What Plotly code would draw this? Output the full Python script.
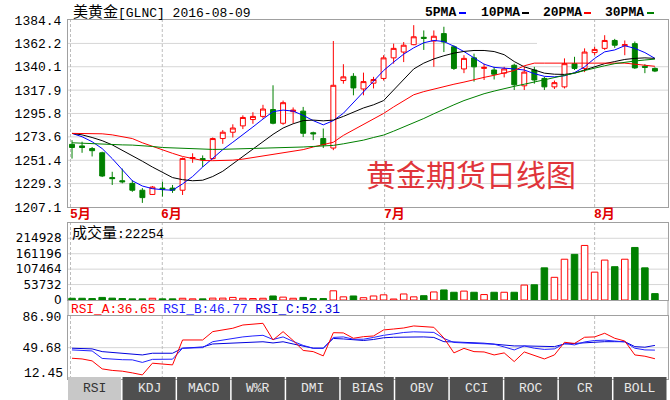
import plotly.graph_objects as go

# ---------------- data ----------------
idx = list(range(59))
open_ = [1266.5, 1265, 1262.5, 1258.5, 1235, 1232, 1229.5, 1223, 1219, 1225,
         1225, 1223, 1253, 1253, 1253, 1272, 1278, 1284, 1290, 1293,
         1299.5, 1286.5, 1297.5, 1298, 1277.5, 1272, 1263, 1327, 1331, 1319,
         1324.5, 1329, 1348.5, 1354, 1361, 1368, 1364.5, 1371.5, 1359, 1338,
         1348.5, 1338.5, 1337, 1334, 1341.5, 1322, 1337, 1329, 1321, 1321,
         1343, 1338.5, 1353.5, 1357.5, 1365, 1360, 1362, 1340.5, 1338.5]
high = [1270.5, 1269, 1264, 1259.5, 1240.5, 1243.5, 1232.5, 1225, 1227, 1231,
        1228, 1254, 1258, 1256, 1273, 1280, 1285.5, 1294, 1297, 1304,
        1322.5, 1308, 1301.5, 1302, 1278.5, 1281.5, 1364.5, 1342.5, 1334, 1334.5,
        1330.5, 1351, 1362, 1363.5, 1379.5, 1374.5, 1374.5, 1378, 1360.5, 1351,
        1352.5, 1343, 1340, 1340, 1343, 1340, 1340, 1330.5, 1327, 1348,
        1349.5, 1357.5, 1359, 1370, 1366.5, 1365, 1364, 1342.5, 1339.5]
low = [1253, 1258.5, 1255, 1235.5, 1228, 1229.5, 1221.5, 1211, 1218.5, 1217,
       1220.5, 1218.5, 1249, 1245, 1252, 1267, 1273, 1281, 1286, 1291,
       1285.5, 1285, 1286.5, 1273.5, 1270.5, 1263, 1261, 1324, 1313, 1313,
       1319.5, 1327, 1343, 1344.5, 1360.5, 1356, 1340, 1354, 1337, 1334,
       1326, 1327.5, 1328, 1330, 1318, 1318, 1324, 1318, 1319, 1319.5,
       1337, 1335, 1351, 1356, 1358, 1351, 1338, 1334, 1335]
close = [1263.5, 1263.5, 1260.5, 1236.5, 1234, 1231, 1223, 1216, 1226, 1224,
         1223, 1253, 1254, 1252, 1272, 1278, 1282, 1292, 1293, 1300,
         1286.5, 1306, 1299, 1277, 1276.5, 1266, 1322.5, 1330.5, 1320, 1326,
         1328, 1348.5, 1357.5, 1360.5, 1368.5, 1367, 1369, 1363.5, 1338.5, 1348,
         1340, 1339.5, 1333, 1338, 1323, 1335, 1327.5, 1321, 1325, 1343,
         1338.5, 1354, 1356.5, 1365, 1360.5, 1361, 1339, 1339.5, 1336]
volume = [6000, 6000, 5000, 9000, 6500, 5000, 4000, 4000, 6000, 4000,
          4000, 6000, 4000, 4000, 6500, 6500, 9000, 6000, 5000, 6000,
          14000, 10000, 6000, 9000, 5000, 5000, 32000, 11000, 14000, 8000,
          14000, 18000, 3500, 21000, 11000, 15000, 28000, 35000, 27000, 31000,
          27000, 19000, 27000, 27000, 27000, 52000, 53000, 112000, 79000, 142000,
          159000, 190000, 97000, 139000, 116000, 142000, 183000, 112000, 22254]
ma5 = [1276.9, 1273.7, 1269, 1262.5, 1253, 1242, 1232, 1227, 1224.5, 1223.5,
       1223, 1229, 1236, 1245, 1253.2, 1261.5, 1268.5, 1275.5, 1283, 1290.5,
       1297.5, 1299, 1298, 1294, 1289, 1285, 1289, 1296, 1306, 1316.5,
       1326, 1336.5, 1344.5, 1352, 1358, 1362.8, 1365, 1364, 1359.5, 1354.5,
       1348.5, 1342.5, 1339.5, 1339, 1338, 1337, 1333.5, 1331, 1330.5, 1331.5,
       1334.5, 1340, 1348, 1354.2, 1356, 1360, 1357.5, 1353.5, 1348]
ma10 = [1276.9, 1275.5, 1273, 1270, 1266, 1261, 1255.5, 1250.5, 1245, 1240,
        1235, 1233, 1232, 1232.5, 1236, 1241, 1248, 1255, 1262, 1269,
        1276, 1282, 1286, 1289, 1289.5, 1288.8, 1289.5, 1293, 1297, 1301,
        1304, 1308, 1318, 1328, 1338, 1343.5, 1347.5, 1350.5, 1353, 1354.6,
        1355.5, 1355.5, 1354.5, 1351.5, 1345, 1340, 1337, 1334, 1333, 1332.8,
        1334, 1337, 1340, 1343, 1345, 1347, 1348, 1348.5, 1348]
ma20 = [1276.9, 1277, 1277, 1276.5, 1275.5, 1274, 1272, 1268, 1264.5, 1261,
        1258, 1255, 1253, 1251.2, 1251, 1251.2, 1251.5, 1252.5, 1254, 1255.5,
        1257, 1258.5, 1260, 1261.5, 1264, 1266, 1268.5, 1275, 1280, 1285,
        1290.5, 1295.8, 1302, 1308, 1313.5, 1316.5, 1319, 1321.5, 1323.5, 1325.5,
        1328, 1330, 1332, 1334, 1336.5, 1341, 1343.5, 1343.5, 1343.5, 1343.5,
        1343.5, 1343.5, 1343.5, 1343.5, 1343.5, 1343.5, 1342.5, 1341.5, 1340.5]
ma30 = [1268, 1267.5, 1267, 1266.5, 1266.3, 1266, 1265.8, 1265.5, 1264.5, 1263.5,
        1263, 1262.5, 1262, 1261.7, 1261.7, 1261.8, 1262, 1262.2, 1262.4, 1262.6,
        1262.7, 1263, 1263.5, 1264, 1264.5, 1265, 1265.5, 1267, 1268.5, 1270.5,
        1273, 1275.3, 1279, 1283, 1286.5, 1291, 1295.5, 1300, 1304, 1308,
        1311.5, 1314.5, 1317, 1319.5, 1321.5, 1323.5, 1325.5, 1327.8, 1330, 1332,
        1334, 1336.5, 1339, 1341, 1343, 1344.5, 1345.5, 1346.5, 1347.3]
rsi_a = [37.2, 36.4, 34.1, 24.7, 22.9, 22, 20, 17.6, 31.4, 30.6,
         29.4, 58.7, 58.7, 58.7, 68.5, 70.5, 72.5, 76.3, 76.9, 78.3,
         58.7, 68.5, 58.1, 46.4, 45, 40, 67.3, 67, 60.7, 62.6,
         63.4, 70.5, 71.6, 72.8, 75.2, 74, 73.6, 61.1, 43.5, 48.8,
         45, 44.6, 41.1, 43.5, 33.3, 44.6, 40.5, 36.4, 41.1, 56,
         54.6, 61.9, 62.3, 66.6, 60.7, 57.5, 41.1, 39.6, 36.65]
rsi_b = [47, 46.4, 45.8, 37, 35.9, 35.5, 35.3, 32.3, 35.9, 36.1,
         36.1, 49, 49.3, 49.7, 56.7, 58.7, 60.7, 62.3, 63.4, 64.2,
         59.3, 62.3, 57, 52.3, 49, 49, 61.7, 62.3, 59.6, 59.6,
         61.7, 64.2, 65.8, 67.5, 68.3, 68.1, 67.6, 60.5, 55.8, 55.2,
         54.9, 54.3, 53.7, 50.5, 47, 51.7, 49, 47.6, 48.2, 54.6,
         52.9, 56.4, 58.1, 58.5, 57.5, 56.4, 49, 47, 46.77]
rsi_c = [49, 49, 48.2, 45, 44.1, 43.1, 42, 41.1, 43.1, 43.1,
         43.1, 49, 49.9, 50.5, 54, 54.4, 54.9, 55.4, 56.1, 56.6,
         55.2, 56.6, 54, 51.3, 49, 49, 60.5, 59.9, 58.7, 58.1,
         59.3, 61.3, 61.9, 62.2, 62.6, 62.3, 61.7, 56.7, 56.4, 56,
         55.5, 54.9, 53.8, 52.9, 51.7, 51.7, 51.7, 51.3, 50.9, 54,
         54.6, 55.4, 56.4, 56.7, 56.7, 56.7, 50.9, 50.2, 52.31]

main_ticks = [1207.1, 1229.3, 1251.4, 1273.6, 1295.8, 1317.9, 1340.1, 1362.2, 1384.4]
vol_ticks = [0, 53732, 107464, 161196, 214928]
rsi_ticks = [12.45, 49.68, 86.90]
month_labels = ["5月", "6月", "7月", "8月"]
month_pos = [-0.15, 8.98, 31.1, 52.0]
ma_names = ["5PMA", "10PMA", "20PMA", "30PMA"]
tab_labels = ["RSI", "KDJ", "MACD", "W%R", "DMI", "BIAS", "OBV", "CCI", "ROC", "CR", "BOLL"]
title_text = "美黄金[GLNC] 2016-08-09"
big_text = "黄金期货日线图"

# ---------------- styling ----------------
W, H = 670, 400
X0, X1 = 68, 668
RED, GREEN, BLUE, BLACK = "#ff0000", "#008000", "#0000ff", "#000000"
FRAME = "#a0a0a0"
GRID = "#d6d6d6"
VGRID = "#bdbdbd"
MONO = "Liberation Mono, Noto Sans CJK SC, monospace"


def fx(p):
    return p / W


def fy(p):
    return 1 - p / H


up = [c >= o for o, c in zip(open_, close)]

fig = go.Figure()
fig.add_trace(go.Candlestick(
    x=idx, open=open_, high=high, low=low, close=close,
    increasing=dict(line=dict(color=RED, width=1), fillcolor="white"),
    decreasing=dict(line=dict(color=GREEN, width=1), fillcolor=GREEN),
    whiskerwidth=0, xaxis="x", yaxis="y", hoverinfo="skip"))
for vals, col in [(ma5, BLUE), (ma10, BLACK), (ma20, RED), (ma30, GREEN)]:
    fig.add_trace(go.Scatter(x=idx, y=vals, mode="lines",
                             line=dict(color=col, width=1), xaxis="x", yaxis="y"))

fig.add_trace(go.Bar(
    x=idx, y=volume, width=0.65,
    marker=dict(color=["white" if u else GREEN for u in up],
                line=dict(color=[RED if u else GREEN for u in up], width=1)),
    xaxis="x2", yaxis="y2"))

for vals, col in [(rsi_c, "#0000dd"), (rsi_b, "#2222ff"), (rsi_a, RED)]:
    fig.add_trace(go.Scatter(x=idx, y=vals, mode="lines",
                             line=dict(color=col, width=1), xaxis="x3", yaxis="y3"))

common_x = dict(range=[-0.4, 59.3], domain=[fx(X0), fx(X1)], showgrid=False,
                zeroline=False, showticklabels=False, showline=True,
                linecolor=FRAME, linewidth=1, mirror=True, ticks="", fixedrange=True)
common_y = dict(showgrid=False, zeroline=False, showline=True, linecolor=FRAME,
                linewidth=1, mirror=True, ticks="", ticklabelstandoff=3,
                fixedrange=True, automargin=False)

fig.update_layout(
    width=W, height=H, margin=dict(l=0, r=0, t=0, b=0, autoexpand=False),
    paper_bgcolor="white", plot_bgcolor="white", showlegend=False,
    boxgap=0.3,
    xaxis=dict(**common_x, anchor="y", rangeslider=dict(visible=False)),
    xaxis2=dict(**common_x, anchor="y2", matches="x"),
    xaxis3=dict(**common_x, anchor="y3", matches="x"),
    yaxis=dict(**common_y, domain=[fy(207), fy(20)], range=[main_ticks[0], main_ticks[-1]],
               tickvals=main_ticks, ticktext=[f"{v:.1f}" for v in main_ticks],
               tickfont=dict(family=MONO, size=13, color=BLACK)),
    yaxis2=dict(**common_y, domain=[fy(300), fy(223)], range=[0, 268200],
                tickvals=vol_ticks, ticktext=[str(v) for v in vol_ticks],
                tickfont=dict(family="DejaVu Sans", size=12, color=BLACK)),
    yaxis3=dict(**common_y, domain=[fy(379.3), fy(316)], range=[rsi_ticks[0], rsi_ticks[-1]],
                tickvals=rsi_ticks[1:], ticktext=[f"{v:.2f}" for v in rsi_ticks[1:]],
                tickfont=dict(family=MONO, size=13, color=BLACK)),
)

shapes = []
# horizontal gridlines
for v in main_ticks[1:-1]:
    xe = fx(537) if abs(v - 1362.2) < 0.01 else fx(X1)
    shapes.append(dict(type="line", xref="paper", yref="y", x0=fx(X0), x1=xe, y0=v, y1=v,
                       line=dict(color=GRID, width=1), layer="below"))
for v in vol_ticks[1:]:
    shapes.append(dict(type="line", xref="paper", yref="y2", x0=fx(X0), x1=fx(X1), y0=v, y1=v,
                       line=dict(color=GRID, width=1), layer="below"))
shapes.append(dict(type="line", xref="paper", yref="y3", x0=fx(X0), x1=fx(X1),
                   y0=rsi_ticks[1], y1=rsi_ticks[1], line=dict(color=GRID, width=1), layer="below"))
# dashed month separators in each panel
for p in month_pos:
    for (ya, yb) in [(207, 20), (300, 223), (379, 316)]:
        shapes.append(dict(type="line", xref="x", yref="paper", x0=p, x1=p, y0=fy(ya), y1=fy(yb),
                           line=dict(color=VGRID, width=1, dash="3px,2px"), layer="below"))
# frame sides between volume and RSI panels
for xp in (X0, X1):
    shapes.append(dict(type="line", xref="paper", yref="paper", x0=fx(xp), x1=fx(xp),
                       y0=fy(316), y1=fy(300), line=dict(color=FRAME, width=1)))
# legend dashes
leg_x = [423, 479, 541, 603]
dash_x = [459, 522, 584, 647]
for dx, col in zip(dash_x, [BLUE, BLACK, RED, GREEN]):
    shapes.append(dict(type="line", xref="paper", yref="paper", x0=fx(dx), x1=fx(dx + 7),
                       y0=fy(13), y1=fy(13), line=dict(color=col, width=2)))
# tabs
tw = (X1 - X0) / len(tab_labels)
for k, lab in enumerate(tab_labels):
    shapes.append(dict(type="rect", xref="paper", yref="paper",
                       x0=fx(X0 + k * tw), x1=fx(X0 + (k + 1) * tw - 1.5), y0=0, y1=fy(377),
                       fillcolor="#c8c8c8" if k == 0 else "#4f4f4f", line=dict(width=0),
                       layer="above"))
fig.update_layout(shapes=shapes)

ann = []
ann.append(dict(xref="paper", yref="paper", x=fx(71), y=fy(13), xanchor="left", yanchor="middle",
                text='<span style="font-size:15px">' + title_text[:3] + "</span>" + title_text[3:],
                showarrow=False, font=dict(family=MONO, size=13, color=BLACK)))
for lx, name in zip(leg_x, ma_names):
    ann.append(dict(xref="paper", yref="paper", x=fx(lx), y=fy(13), xanchor="left", yanchor="middle",
                    text=f"<b>{name}</b>", showarrow=False,
                    font=dict(family=MONO, size=13, color=BLACK)))
for p, lab in zip(month_pos, month_labels):
    ann.append(dict(xref="x", yref="paper", x=p, y=fy(214.5), xanchor="left", yanchor="middle",
                    xshift=-3, text=f"<b>{lab}</b>", showarrow=False,
                    font=dict(family=MONO, size=13, color="#e00000")))
ann.append(dict(xref="paper", yref="paper", x=fx(471), y=fy(173), xanchor="center", yanchor="middle",
                text=big_text, showarrow=False,
                font=dict(family="Noto Sans CJK SC", size=30, color="#e0353b")))
ann.append(dict(xref="paper", yref="paper", x=fx(70), y=fy(233), xanchor="left", yanchor="middle",
                text='<span style="font-size:15px">成交量</span>:' + str(volume[-1]), showarrow=False,
                font=dict(family=MONO, size=13, color=BLACK)))
ann.append(dict(xref="paper", yref="paper", x=fx(69), y=fy(309.5), xanchor="left", yanchor="middle",
                text=(f'<span style="color:{RED}">RSI_A:{rsi_a[-1]:.2f}</span> '
                      f'<span style="color:#2222ff">RSI_B:{rsi_b[-1]:.2f}</span> '
                      f'<span style="color:#0000dd">RSI_C:{rsi_c[-1]:.2f}</span>'),
                showarrow=False, font=dict(family=MONO, size=12.8, color=BLACK)))
ann.append(dict(xref="paper", yref="paper", x=fx(65), y=fy(373), xanchor="right", yanchor="middle",
                text=f"{rsi_ticks[0]:.2f}", showarrow=False,
                font=dict(family=MONO, size=13, color=BLACK)))
for k, lab in enumerate(tab_labels):
    ann.append(dict(xref="paper", yref="paper", x=fx(X0 + (k + 0.5) * tw - 0.75), y=fy(388.5),
                    xanchor="center", yanchor="middle", text=lab, showarrow=False,
                    font=dict(family=MONO, size=13, color="#333333" if k == 0 else "#e8e8e8")))
fig.update_layout(annotations=ann)

fig.write_html("out.html", config={"displayModeBar": False},
               post_script="document.body.style.margin='0';document.body.style.padding='0';")
